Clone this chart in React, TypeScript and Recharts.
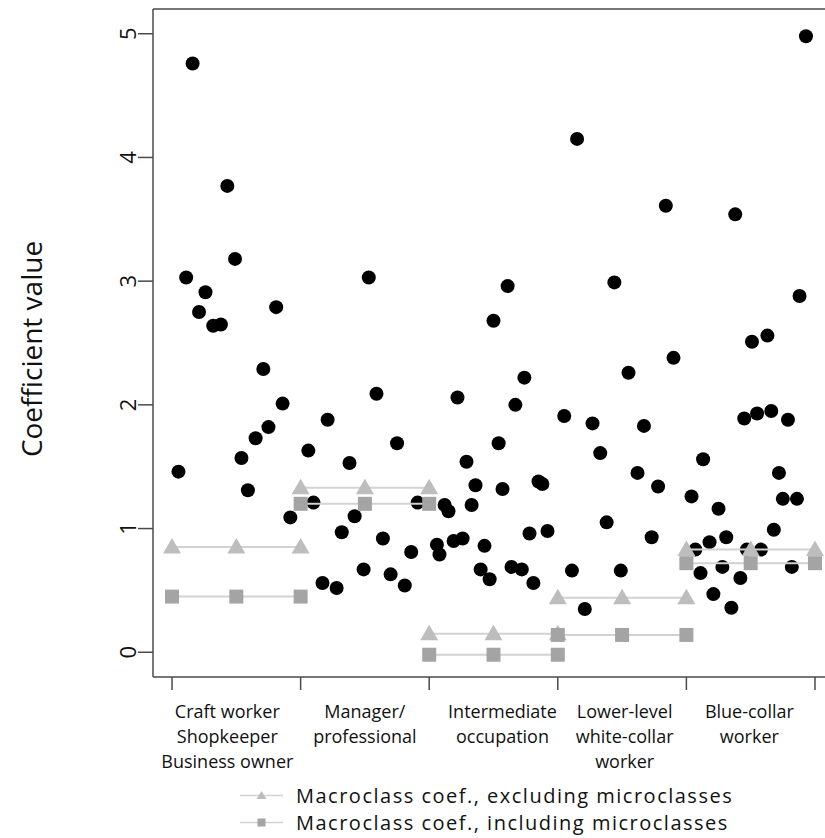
import { ScatterChart, Scatter, XAxis, YAxis, ReferenceLine, Legend, Label } from "recharts";

// microclass coefficients, grouped by macroclass
const craftX = [0.05, 0.11, 0.16, 0.21, 0.26, 0.32, 0.38, 0.43, 0.49, 0.54, 0.59, 0.65, 0.71, 0.75, 0.81, 0.86, 0.92];
const craftY = [1.46, 3.03, 4.76, 2.75, 2.91, 2.64, 2.65, 3.77, 3.18, 1.57, 1.31, 1.73, 2.29, 1.82, 2.79, 2.01, 1.09];

const managerX = [1.06, 1.10, 1.17, 1.21, 1.28, 1.32, 1.38, 1.42, 1.49, 1.53, 1.59, 1.64, 1.70, 1.75, 1.81, 1.86, 1.91];
const managerY = [1.63, 1.21, 0.56, 1.88, 0.52, 0.97, 1.53, 1.10, 0.67, 3.03, 2.09, 0.92, 0.63, 1.69, 0.54, 0.81, 1.21];

const intermediateX = [2.06, 2.08, 2.12, 2.15, 2.19, 2.22, 2.26, 2.29, 2.33, 2.36, 2.40, 2.43, 2.47, 2.50, 2.54, 2.57, 2.61, 2.64, 2.67, 2.72, 2.74, 2.78, 2.81, 2.85, 2.88, 2.92];
const intermediateY = [0.87, 0.79, 1.19, 1.14, 0.90, 2.06, 0.92, 1.54, 1.19, 1.35, 0.67, 0.86, 0.59, 2.68, 1.69, 1.32, 2.96, 0.69, 2.00, 0.67, 2.22, 0.96, 0.56, 1.38, 1.36, 0.98];

const lowerX = [3.05, 3.11, 3.15, 3.21, 3.27, 3.33, 3.38, 3.44, 3.49, 3.55, 3.62, 3.67, 3.73, 3.78, 3.84, 3.90];
const lowerY = [1.91, 0.66, 4.15, 0.35, 1.85, 1.61, 1.05, 2.99, 0.66, 2.26, 1.45, 1.83, 0.93, 1.34, 3.61, 2.38];

const blueX = [4.04, 4.07, 4.11, 4.13, 4.18, 4.21, 4.25, 4.28, 4.31, 4.35, 4.38, 4.42, 4.45, 4.47, 4.51, 4.55, 4.58, 4.63, 4.66, 4.68, 4.72, 4.75, 4.79, 4.82, 4.86, 4.88, 4.93];
const blueY = [1.26, 0.83, 0.64, 1.56, 0.89, 0.47, 1.16, 0.69, 0.93, 0.36, 3.54, 0.60, 1.89, 0.83, 2.51, 1.93, 0.83, 2.56, 1.95, 0.99, 1.45, 1.24, 1.88, 0.69, 1.24, 2.88, 4.98];

// macroclass coefficients
const macroExcl = [0.85, 1.33, 0.15, 0.44, 0.83];
const macroIncl = [0.45, 1.20, -0.02, 0.14, 0.72];
const macroMarkerSteps = [0, 0.5, 1];

const classBounds = [0, 1, 2, 3, 4, 5];
const classLabels = [
  ["Craft worker", "Shopkeeper", "Business owner"],
  ["Manager/", "professional"],
  ["Intermediate", "occupation"],
  ["Lower-level", "white-collar", "worker"],
  ["Blue-collar", "worker"],
];
const labelPos = [0.43, 1.5, 2.57, 3.52, 4.49];
const yTicks = [0, 1, 2, 3, 4, 5];

const legendItems = [
  { label: "Macroclass coef., excluding microclasses", marker: "triangle" },
  { label: "Macroclass coef., including microclasses", marker: "square" },
];

const FONT = "'Open Sans', sans-serif";
const AXIS = "#4a4a4a";
const TRI = "#bdbdbd";
const SQ = "#a4a4a4";
const SEG = "#d2d2d2";

const microData = [
  ...craftX.map((x, i) => ({ x, y: craftY[i] })),
  ...managerX.map((x, i) => ({ x, y: managerY[i] })),
  ...intermediateX.map((x, i) => ({ x, y: intermediateY[i] })),
  ...lowerX.map((x, i) => ({ x, y: lowerY[i] })),
  ...blueX.map((x, i) => ({ x, y: blueY[i] })),
];

const macroSeries = (values: number[]) =>
  values.map((v, i) => macroMarkerSteps.map(s => ({ x: classBounds[i] + s, y: v })));

const exclSeries = macroSeries(macroExcl);
const inclSeries = macroSeries(macroIncl);

const Dot = (p: any) => <circle cx={p.cx} cy={p.cy} r={7} fill="#000" />;
const Tri = (p: any) => (
  <polygon points={`${p.cx},${p.cy - 9} ${p.cx - 9},${p.cy + 6.5} ${p.cx + 9},${p.cy + 6.5}`} fill={TRI} />
);
const Sq = (p: any) => <rect x={p.cx - 7} y={p.cy - 7} width={14} height={14} fill={SQ} />;

const XTick = (props: any) => {
  const { x, y, payload } = props;
  const li = labelPos.indexOf(payload.value);
  if (li < 0) {
    return <line x1={x} x2={x} y1={y} y2={y + 13} stroke={AXIS} strokeWidth={1.5} />;
  }
  return (
    <text x={x} y={y} textAnchor="middle" fontFamily={FONT} fontSize={18} fill="#111">
      {classLabels[li].map((t, i) => (
        <tspan key={i} x={x} y={y + 41 + i * 25}>{t}</tspan>
      ))}
    </text>
  );
};

// rotated digits: baseline sits right of the glyphs, so x is the baseline
const YTick = (props: any) => {
  const { x, y, payload } = props;
  return (
    <text x={x} y={y} transform={`rotate(-90 ${x} ${y})`} textAnchor="middle"
      fontFamily={FONT} fontSize={22} fill="#111">
      {payload.value}
    </text>
  );
};

const renderYTitle = (props: any) => {
  const vb = props.viewBox;
  const cx = vb.x + 42;
  const cy = vb.y + vb.height / 2 + 6;
  return (
    <text x={cx} y={cy} transform={`rotate(-90 ${cx} ${cy})`} textAnchor="middle"
      fontFamily={FONT} fontSize={28} fill="#111">
      Coefficient value
    </text>
  );
};

const renderLegend = () => (
  <div style={{ fontFamily: FONT, fontSize: 20, letterSpacing: 1.5, color: "#111", lineHeight: "27px" }}>
    {legendItems.map((item, i) => (
      <div key={i} style={{ display: "flex", alignItems: "center", whiteSpace: "nowrap", height: 27 }}>
        <svg width={50} height={27}>
          <line x1={2} x2={45} y1={13.5} y2={13.5} stroke={SEG} strokeWidth={1.5} />
          {item.marker === "triangle" ? (
            <polygon points="23.5,9 18.5,17 28.5,17" fill={TRI} />
          ) : (
            <rect x={19.5} y={9.5} width={8} height={8} fill={SQ} />
          )}
        </svg>
        <span style={{ marginLeft: 8 }}>{item.label}</span>
      </div>
    ))}
  </div>
);

export default function App() {
  return (
    <div style={{ position: "absolute", left: 0, top: 0, width: 825, height: 838, overflow: "hidden", background: "#fff" }}>
      <ScatterChart width={840} height={838} margin={{ top: 9, right: 6, bottom: 0, left: 0 }}>
        <XAxis
          type="number"
          dataKey="x"
          domain={[-0.148, 5.148]}
          allowDataOverflow
          ticks={[...classBounds, ...labelPos]}
          interval={0}
          height={161}
          tickSize={0}
          tickMargin={0}
          tickLine={false}
          tick={<XTick />}
          axisLine={{ stroke: AXIS, strokeWidth: 1.5 }}
        />
        <YAxis
          type="number"
          dataKey="y"
          domain={[-0.2, 5.2]}
          allowDataOverflow
          ticks={yTicks}
          interval={0}
          width={153}
          tickSize={15}
          tickMargin={2}
          tickLine={{ stroke: AXIS, strokeWidth: 1.5 }}
          tick={<YTick />}
          axisLine={{ stroke: AXIS, strokeWidth: 1.5 }}
        >
          <Label content={renderYTitle} />
        </YAxis>
        <ReferenceLine y={5.2} stroke={AXIS} strokeWidth={1.5} />
        <Scatter data={microData} shape={<Dot />} isAnimationActive={false} legendType="none" />
        {exclSeries.map((d, i) => (
          <Scatter key={`e${i}`} data={d} shape={<Tri />} line={{ stroke: SEG, strokeWidth: 2 }} lineType="joint"
            isAnimationActive={false} legendType="none" />
        ))}
        {inclSeries.map((d, i) => (
          <Scatter key={`n${i}`} data={d} shape={<Sq />} line={{ stroke: SEG, strokeWidth: 2 }} lineType="joint"
            isAnimationActive={false} legendType="none" />
        ))}
        <Legend
          layout="vertical"
          align="center"
          verticalAlign="middle"
          content={renderLegend}
          wrapperStyle={{ top: 782, left: 238, width: "auto", height: "auto" }}
        />
      </ScatterChart>
    </div>
  );
}
